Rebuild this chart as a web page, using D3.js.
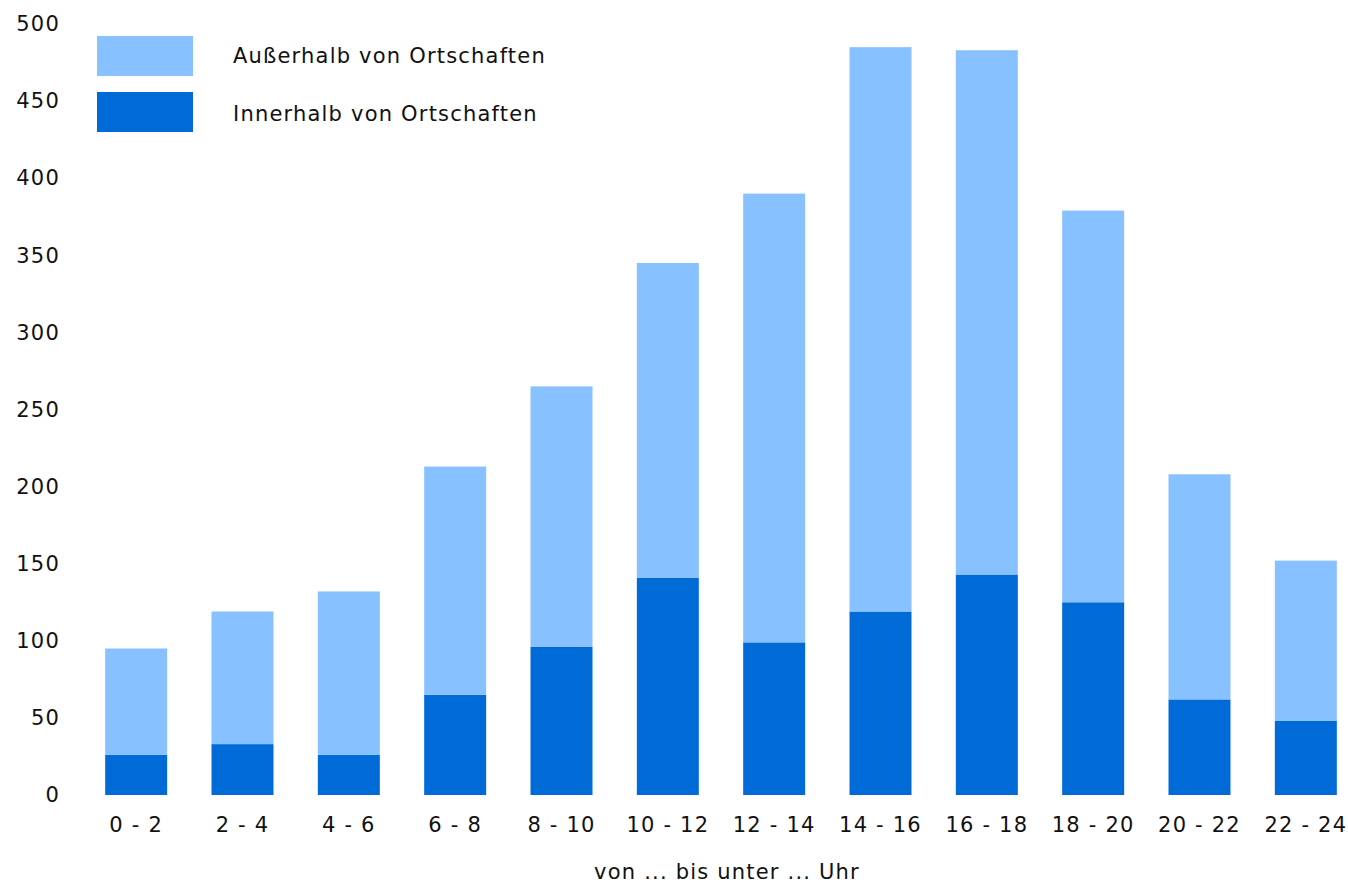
<!DOCTYPE html>
<html>
<head>
    <meta charset="utf-8">
    <title>Unfälle nach Uhrzeit</title>
    <script src="https://d3js.org/d3.v7.min.js"></script>
    <style>
        body { margin: 0; background: white; }
        svg { font-family: "DejaVu Sans", Verdana, sans-serif; }
        text { letter-spacing: 1.2px; }
    </style>
</head>
<body>
    <svg id="chart"></svg>
    <script>
        const categories = ["0 - 2", "2 - 4", "4 - 6", "6 - 8", "8 - 10", "10 - 12",
            "12 - 14", "14 - 16", "16 - 18", "18 - 20", "20 - 22", "22 - 24"];
        const innerhalb = [26, 33, 26, 65, 96, 141, 99, 119, 143, 125, 62, 48];
        const ausserhalb = [69, 86, 106, 148, 169, 204, 291, 366, 340, 254, 146, 104];
        const yTicks = [0, 50, 100, 150, 200, 250, 300, 350, 400, 450, 500];
        const seriesNames = ["Außerhalb von Ortschaften", "Innerhalb von Ortschaften"];
        const colors = { inner: "#006bd6", outer: "#88c1ff" };

        const width = 1348, height = 885;
        const svg = d3.select("#chart").attr("width", width).attr("height", height);

        const x = d3.scaleBand().domain(categories).range([83, 1359])
            .paddingInner(0.417).paddingOuter(0.2085);
        const y = d3.scaleLinear().domain([0, 500]).range([795, 24]);

        const rows = categories.map((c, i) => ({ cat: c, inner: innerhalb[i], outer: ausserhalb[i] }));
        const stacked = d3.stack().keys(["inner", "outer"])(rows);

        svg.selectAll("g.series")
            .data(stacked)
            .join("g")
            .attr("class", "series")
            .attr("fill", d => colors[d.key])
            .selectAll("rect")
            .data(d => d)
            .join("rect")
            .attr("x", d => x(d.data.cat))
            .attr("width", x.bandwidth())
            .attr("y", d => y(d[1]))
            .attr("height", d => y(d[0]) - y(d[1]));

        // y axis labels
        const yAxis = svg.append("g")
            .attr("transform", "translate(60,0)")
            .call(d3.axisLeft(y).tickValues(yTicks).tickSize(0).tickPadding(0));
        yAxis.select(".domain").remove();
        yAxis.selectAll("text")
            .attr("font-size", "21px")
            .attr("font-family", "DejaVu Sans, sans-serif")
            .attr("fill", "#111");

        // x axis labels
        const xAxis = svg.append("g")
            .attr("transform", "translate(0,795)")
            .call(d3.axisBottom(x).tickSize(0).tickPadding(22));
        xAxis.select(".domain").remove();
        xAxis.selectAll("text")
            .attr("font-size", "21px")
            .attr("font-family", "DejaVu Sans, sans-serif")
            .attr("fill", "#111");

        svg.append("text")
            .attr("x", 727)
            .attr("y", 872)
            .attr("dy", "0.35em")
            .attr("text-anchor", "middle")
            .attr("font-size", "21px")
            .attr("fill", "#111")
            .text("von ... bis unter ... Uhr");

        // legend
        const legend = svg.append("g");
        const legendColors = [colors.outer, colors.inner];
        seriesNames.forEach((name, i) => {
            legend.append("rect")
                .attr("x", 97)
                .attr("y", 36 + i * 56)
                .attr("width", 96)
                .attr("height", 40)
                .attr("fill", legendColors[i]);
            legend.append("text")
                .attr("x", 233)
                .attr("y", 56 + i * 58)
                .attr("dy", "0.35em")
                .attr("font-size", "21px")
                .attr("fill", "#111")
                .text(name);
        });
    </script>
</body>
</html>
